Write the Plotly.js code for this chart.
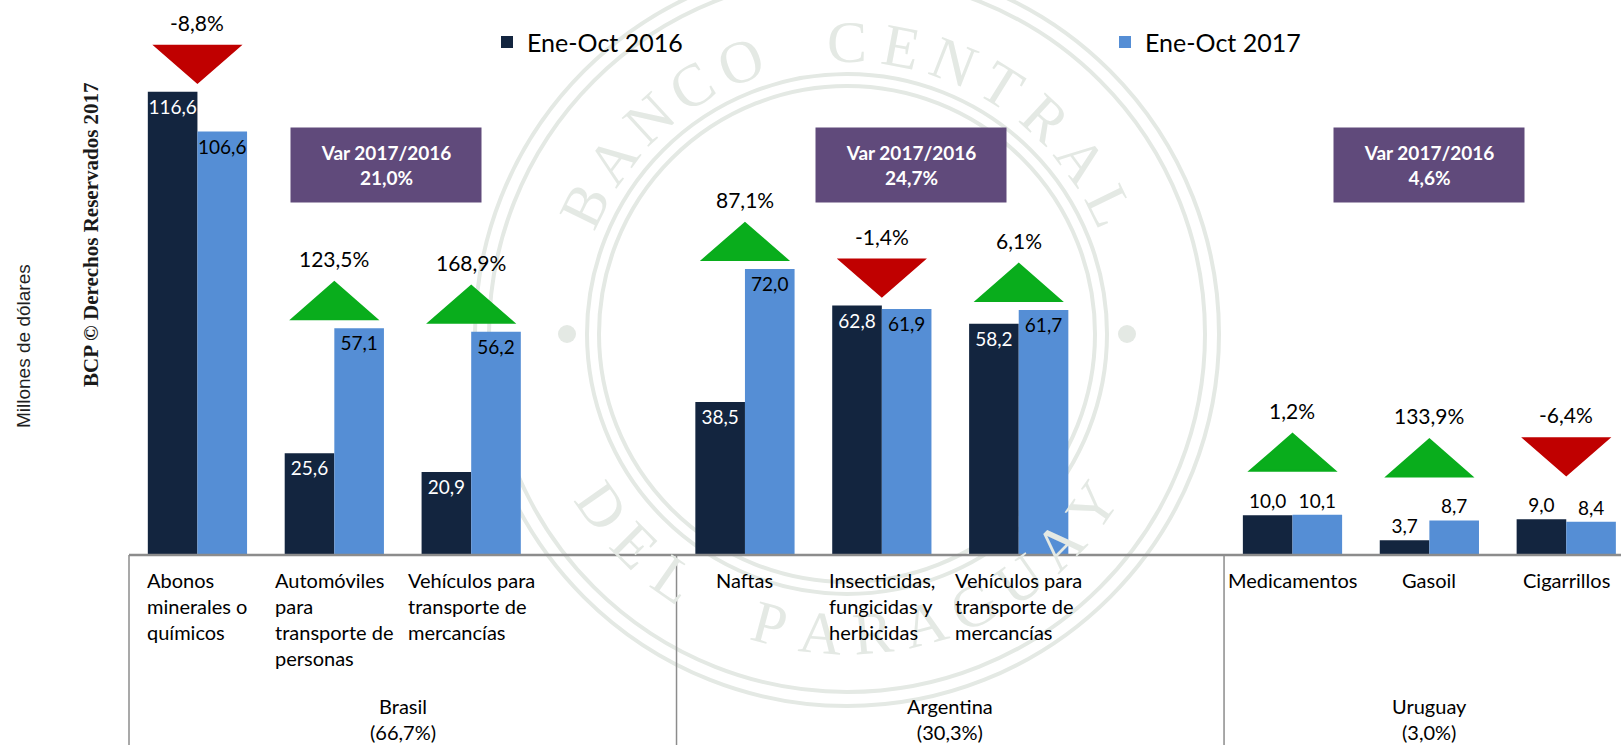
<!DOCTYPE html>
<html>
<head>
<meta charset="utf-8">
<script src="https://cdn.plot.ly/plotly-3.0.1.min.js"></script>
<style>
html,body{margin:0;padding:0;background:#ffffff;}
#chart{width:1621px;height:745px;}
</style>
</head>
<body>
<div id="chart"></div>
<script>
// ---------------- DATA ----------------
const seriesNames = ['Ene-Oct 2016', 'Ene-Oct 2017'];
const groupNames = ['Brasil', 'Argentina', 'Uruguay'];
const groupShares = [66.7, 30.3, 3.0];
const groupVariation = [21.0, 24.7, 4.6];
const products = [
  'Abonos<br>minerales o<br>químicos',
  'Automóviles<br>para<br>transporte de<br>personas',
  'Vehículos para<br>transporte de<br>mercancías',
  'Naftas',
  'Insecticidas,<br>fungicidas y<br>herbicidas',
  'Vehículos para<br>transporte de<br>mercancías',
  'Medicamentos',
  'Gasoil',
  'Cigarrillos'
];
const productGroup = [0, 0, 0, 1, 1, 1, 2, 2, 2];
const exports2016 = [116.6, 25.6, 20.9, 38.5, 62.8, 58.2, 10.0, 3.7, 9.0];
const exports2017 = [106.6, 57.1, 56.2, 72.0, 61.9, 61.7, 10.1, 8.7, 8.4];
const variationPct = [-8.8, 123.5, 168.9, 87.1, -1.4, 6.1, 1.2, 133.9, -6.4];
const yTitle = 'Millones de dólares';
const copyrightText = 'BCP © Derechos Reservados 2017';
const sealTop = 'BANCO CENTRAL';
const sealBottom = 'DEL PARAGUAY';

// ---------------- LAYOUT CONSTANTS ----------------
const W = 1621, H = 745;
const ML = 129, MB = 190, MT = 0, MR = 0;
const plotW = W - ML - MR, plotH = H - MT - MB;
const X_MIN = -0.5, X_MAX = 10.4, Y_MAX = 139.7;
const pxPerY = plotH / Y_MAX;
const SLOTS_PER_GROUP = 4;

const C_DARK = '#13253f', C_LIGHT = '#558ed5';
const C_UP = '#09ad1c', C_DOWN = '#c00000', C_BOX = '#604a7b';
const C_AXIS = '#8c8c8c', C_SEAL = '#e4e9e4';
const FONT = 'Lato, "Open Sans", sans-serif';

const fmt = v => v.toFixed(1).replace('.', ',');
const paperX = xv => (xv - X_MIN) / (X_MAX - X_MIN);
const pxToPaperX = px => (px - ML) / plotW;
const pxToPaperY = py => (MT + plotH - py) / plotH;

// x positions (slots): each group has 3 products + 1 empty spacer slot
const withinCount = [0, 0, 0];
const xPos = productGroup.map(g => g * SLOTS_PER_GROUP + (withinCount[g]++));
const groupCenter = groupNames.map((_, g) => {
  const xs = xPos.filter((_, i) => productGroup[i] === g);
  return (Math.min(...xs) + Math.max(...xs)) / 2;
});

const outsideLabels = xPos.map((_, i) => Math.max(exports2016[i], exports2017[i]) < 20);

// ---------------- TRACES ----------------
const traces = [
  {
    type: 'bar', name: seriesNames[0], legend: 'legend',
    x: xPos, y: exports2016,
    marker: {color: C_DARK},
    text: exports2016.map(fmt),
    textposition: outsideLabels.map(o => o ? 'outside' : 'inside'),
    insidetextanchor: 'end', textangle: 0, constraintext: 'none', cliponaxis: false,
    insidetextfont: {family: FONT, size: 19, color: '#ffffff'},
    outsidetextfont: {family: FONT, size: 19, color: '#000000'},
    hoverinfo: 'skip'
  },
  {
    type: 'bar', name: seriesNames[1], legend: 'legend2',
    x: xPos, y: exports2017,
    marker: {color: C_LIGHT},
    text: exports2017.map(fmt),
    textposition: outsideLabels.map(o => o ? 'outside' : 'inside'),
    insidetextanchor: 'end', textangle: 0, constraintext: 'none', cliponaxis: false,
    insidetextfont: {family: FONT, size: 19, color: '#000000'},
    outsidetextfont: {family: FONT, size: 19, color: '#000000'},
    hoverinfo: 'skip'
  }
];

// ---------------- SHAPES & ANNOTATIONS ----------------
const shapes = [];
const annotations = [];

// watermark seal (faint, drawn first)
const SEAL_CX = 847, SEAL_CY = 334;
const sealCx = pxToPaperX(SEAL_CX), sealCy = pxToPaperY(SEAL_CY);
[372, 358, 260, 248].forEach(r => {
  shapes.push({
    type: 'circle', layer: 'below', xref: 'paper', yref: 'paper',
    xsizemode: 'pixel', ysizemode: 'pixel', xanchor: sealCx, yanchor: sealCy,
    x0: -r, x1: r, y0: -r, y1: r,
    line: {color: C_SEAL, width: 4}, fillcolor: 'rgba(0,0,0,0)'
  });
});
[180, 0].forEach(a => {
  const r = 280, rad = a * Math.PI / 180;
  const dx = r * Math.cos(rad), dy = r * Math.sin(rad);
  shapes.push({
    type: 'circle', layer: 'below', xref: 'paper', yref: 'paper',
    xsizemode: 'pixel', ysizemode: 'pixel', xanchor: sealCx, yanchor: sealCy,
    x0: dx - 9, x1: dx + 9, y0: -dy - 9, y1: -dy + 9,
    line: {width: 0}, fillcolor: C_SEAL
  });
});
function sealText(str, aStart, aEnd, radius, top) {
  const chars = str.split('');
  const step = (aEnd - aStart) / (chars.length - 1);
  chars.forEach((ch, k) => {
    if (ch === ' ') return;
    const a = aStart + k * step, rad = a * Math.PI / 180;
    const px = SEAL_CX + radius * Math.cos(rad), py = SEAL_CY + radius * Math.sin(rad);
    annotations.push({
      x: pxToPaperX(px), y: pxToPaperY(py), xref: 'paper', yref: 'paper',
      xanchor: 'center', yanchor: 'middle', showarrow: false, text: ch,
      textangle: top ? a + 90 : a - 90,
      font: {family: 'Liberation Serif, serif', size: 60, color: C_SEAL}
    });
  });
}
sealText(sealTop, -154, -26, 292, true);
sealText(sealBottom, 145, 35, 300, false);

// category table lines
shapes.push({type: 'line', xref: 'paper', yref: 'paper', x0: 0, x1: 1, y0: 0, y1: 0,
             line: {color: C_AXIS, width: 2.5}});
groupNames.forEach((_, g) => {
  const xv = g * SLOTS_PER_GROUP + X_MIN;
  shapes.push({type: 'line', xref: 'paper', yref: 'paper',
               x0: paperX(xv), x1: paperX(xv), y0: 0, y1: -MB / plotH,
               line: {color: C_AXIS, width: 1.5}});
});

// variation triangles
const TRI_HALF_W = 0.31, TRI_H = 37 / pxPerY;
const triTops = [];
xPos.forEach((xv, i) => {
  const top = Math.max(exports2016[i], exports2017[i]);
  const gap = (outsideLabels[i] ? 44 : 9) / pxPerY;
  const b = top + gap, t = b + TRI_H;
  triTops.push(t);
  const up = variationPct[i] >= 0;
  const path = up
    ? `M ${xv - TRI_HALF_W} ${b} L ${xv + TRI_HALF_W} ${b} L ${xv} ${t} Z`
    : `M ${xv - TRI_HALF_W} ${t} L ${xv + TRI_HALF_W} ${t} L ${xv} ${b} Z`;
  shapes.push({type: 'path', xref: 'x', yref: 'y', path: path,
               fillcolor: up ? C_UP : C_DOWN, line: {color: up ? C_UP : C_DOWN, width: 2}});
});

// variation % above triangles
xPos.forEach((xv, i) => {
  annotations.push({x: xv, y: triTops[i], xref: 'x', yref: 'y', yanchor: 'bottom', yshift: 9,
                    text: fmt(variationPct[i]) + '%', showarrow: false,
                    font: {family: FONT, size: 21, color: '#000000'}});
});

// product labels
xPos.forEach((xv, i) => {
  annotations.push({x: xv, y: 0, xref: 'x', yref: 'paper', xanchor: 'center', yanchor: 'top',
                    yshift: -11, align: 'left', text: products[i], showarrow: false,
                    font: {family: FONT, size: 20, color: '#000000'}});
});

// group labels
groupNames.forEach((name, g) => {
  const xv = g * SLOTS_PER_GROUP + X_MIN + SLOTS_PER_GROUP / 2;
  annotations.push({x: g === 2 ? groupCenter[g] : xv, y: pxToPaperY(692), xref: 'x', yref: 'paper',
                    xanchor: 'center', yanchor: 'top', align: 'center',
                    text: name + '<br>(' + fmt(groupShares[g]) + '%)', showarrow: false,
                    font: {family: FONT, size: 20, color: '#000000'}});
});

// group variation boxes
const boxShift = [52, 29, 0];
groupNames.forEach((_, g) => {
  annotations.push({x: groupCenter[g], y: pxToPaperY(165), xref: 'x', yref: 'paper',
                    xshift: boxShift[g], xanchor: 'center', yanchor: 'middle',
                    width: 182, height: 66, borderpad: 4, bgcolor: C_BOX, showarrow: false,
                    align: 'center',
                    text: '<b>Var 2017/2016</b><br><b>' + fmt(groupVariation[g]) + '%</b>',
                    font: {family: FONT, size: 19, color: '#ffffff'}});
});

// y-axis title and copyright
annotations.push({x: pxToPaperX(23), y: pxToPaperY(346), xref: 'paper', yref: 'paper', showarrow: false,
                  text: yTitle, textangle: -90, xanchor: 'center', yanchor: 'middle',
                  font: {family: 'Liberation Sans, Arial, sans-serif', size: 19, color: '#1f1f1f'}});
annotations.push({x: pxToPaperX(91), y: pxToPaperY(235), xref: 'paper', yref: 'paper', showarrow: false,
                  text: '<b>' + copyrightText + '</b>', textangle: -90, xanchor: 'center', yanchor: 'middle',
                  font: {family: 'Liberation Serif, serif', size: 21, color: '#1a1a1a'}});

// ---------------- LAYOUT ----------------
const legendBase = {
  orientation: 'h', xref: 'container', yref: 'container', xanchor: 'left', yanchor: 'top',
  y: 0.974, bgcolor: 'rgba(0,0,0,0)', borderwidth: 0,
  font: {family: FONT, size: 25, color: '#000000'}
};
const layout = {
  width: W, height: H,
  margin: {l: ML, r: MR, t: MT, b: MB, pad: 0, autoexpand: false},
  paper_bgcolor: '#ffffff', plot_bgcolor: 'rgba(0,0,0,0)',
  separators: ',.',
  barmode: 'group', bargap: 0.275, bargroupgap: 0,
  font: {family: FONT, size: 17, color: '#000000'},
  xaxis: {range: [X_MIN, X_MAX], showticklabels: false, showgrid: false, zeroline: false,
          showline: false, ticks: '', fixedrange: true, automargin: false},
  yaxis: {range: [0, Y_MAX], showticklabels: false, showgrid: false, zeroline: false,
          showline: false, ticks: '', fixedrange: true, automargin: false},
  showlegend: true,
  legend: Object.assign({}, legendBase, {x: 487 / W}),
  legend2: Object.assign({}, legendBase, {x: 1105 / W}),
  shapes: shapes,
  annotations: annotations
};

Plotly.newPlot('chart', traces, layout, {displayModeBar: false, staticPlot: true});
</script>
</body>
</html>
